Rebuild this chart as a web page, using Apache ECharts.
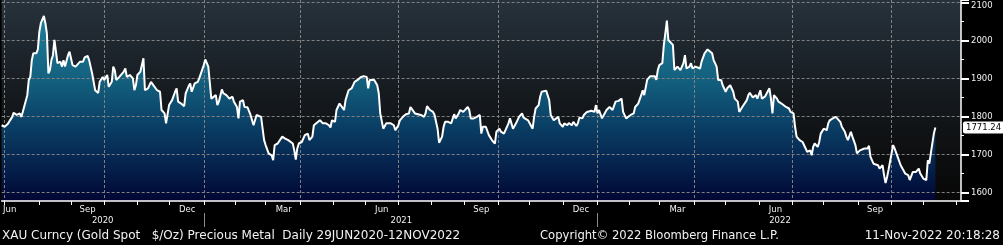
<!DOCTYPE html>
<html><head><meta charset="utf-8">
<script src="https://cdn.jsdelivr.net/npm/echarts@6/dist/echarts.min.js"></script>
<style>html,body{margin:0;padding:0;background:#000;}#c{width:1003px;height:245px;}</style>
</head><body><div id="c"></div>
<script>
// ---- data ----
const startDate = '2020-06-29';      // first trading day shown
const categoryCount = 637;           // weekday slots on the axis (data ends at slot 619)
const sampleDays = [
0,2,4,7,8,10,12,13,14,15,17,18,19,20,21,22,23,24,25,26,28,29,30,31,32,33,34,35,36,37,39,40,41,42,43,44,45,46,47,49,50,52,53,54,55,57,58,60,62,64,65,67,68,70,71,73,74,75,76,78,79,81,82,83,85,87,88,89,90,92,94,95,97,99,100,103,105,106,108,109,110,111,113,115,116,117,119,121,122,124,125,126,128,130,131,132,134,135,137,139,140,142,143,144,146,147,149,151,153,154,156,157,158,160,161,163,165,
167,169,170,172,174,175,177,179,180,181,183,184,186,188,190,191,193,194,195,196,197,199,201,203,204,206,207,208,211,213,215,217,218,219,221,222,224,225,227,228,230,232,233,234,236,237,238,240,242,243,244,245,247,249,250,251,253,255,256,258,260,261,263,264,266,268,270,271,272,274,276,278,280,281,282,284,286,287,289,290,292,293,294,296,298,300,301,303,304,306,307,309,310,311,313,315,317,318,319,321,323,324,325,327,328,330,331,
333,334,336,337,339,340,341,343,345,346,347,349,350,352,353,354,356,357,358,361,362,363,364,366,367,369,370,372,373,375,376,378,379,381,382,383,385,386,388,389,391,393,394,395,396,398,399,401,403,404,405,407,409,410,411,412,414,415,417,419,420,422,424,425,426,428,430,431,433,434,435,436,438,439,440,441,442,443,445,446,447,448,449,450,452,453,454,456,457,458,460,461,463,464,466,468,469,471,472,474,475,477,478,480,481,483,485,486,488,489,491,492,494,495,496,
498,500,501,503,504,506,507,509,510,511,512,514,515,517,518,520,522,523,525,526,527,528,529,531,533,534,536,537,538,539,541,542,543,545,547,548,549,551,553,554,556,557,559,560,561,563,564,566,567,569,570,572,574,575,576,578,579,581,582,584,585,586,587,588,589,591,592,594,596,597,599,601,602,603,604,606,608,609,611,613,614,615,616,617,618,619
];
const prices = [
1777,1773,1780,1799,1810,1804,1808,1799,1812,1817,1856,1896,1904,1948,1966,1970,1966,1976,2023,2045,2064,2045,2018,1913,1922,1948,1961,2001,2003,1940,1944,1931,1948,1931,1935,1961,1970,1966,1935,1931,1935,1944,1948,1944,1955,1959,1948,1913,1869,1862,1891,1904,1896,1909,1878,1891,1931,1922,1896,1904,1904,1918,1926,1904,1909,1900,1869,1882,1909,1918,1953,1869,1874,1891,1887,1869,1865,1817,1808,1782,1777,1830,1843,1865,1874,1839,1834,1827,1861,1880,1887,1865,1887,1891,1900,1897,1935,1950,1931,1847,1852,1856,1830,1839,1871,1861,1856,1847,1852,1839,1825,1795,1839,1843,1825,1824,1804,
1777,1804,1808,1799,1738,1725,1703,1698,1685,1725,1729,1733,1747,1742,1738,1733,1729,1711,1687,1716,1729,1733,1751,1755,1738,1747,1777,1773,1790,1782,1782,1777,1771,1790,1786,1817,1834,1839,1817,1843,1869,1874,1878,1891,1896,1900,1903,1906,1904,1874,1896,1891,1896,1882,1861,1808,1768,1782,1777,1782,1777,1764,1777,1790,1799,1806,1808,1825,1827,1808,1806,1804,1799,1808,1827,1817,1812,1804,1768,1731,1747,1773,1786,1786,1782,1806,1795,1808,1817,1812,1817,1825,1817,1795,1795,1799,1804,1755,1773,1773,1751,1751,1738,1729,1760,1768,1760,
1755,1754,1782,1795,1768,1773,1782,1799,1808,1797,1799,1790,1790,1768,1799,1821,1830,1852,1865,1868,1865,1843,1804,1790,1790,1799,1782,1773,1782,1777,1783,1777,1786,1775,1782,1797,1795,1804,1812,1808,1815,1812,1830,1808,1817,1795,1799,1817,1825,1821,1817,1839,1841,1843,1847,1812,1795,1799,1804,1808,1825,1834,1856,1869,1856,1897,1906,1904,1906,1896,1922,1935,1940,1988,2018,2052,2001,1996,1988,1922,1926,1931,1935,1922,1940,1961,1926,1931,1940,1926,1931,1926,1926,1944,1966,1976,1979,1966,1948,1931,1896,1896,1882,1865,1874,1882,1865,1847,1839,1812,1825,1821,1843,1856,1862,
1850,1856,1847,1869,1847,1852,1856,1874,1847,1808,1856,1847,1839,1834,1830,1825,1821,1812,1808,1773,1747,1742,1738,1733,1716,1707,1711,1698,1720,1729,1720,1733,1755,1768,1764,1782,1790,1795,1799,1804,1786,1773,1760,1747,1738,1760,1747,1725,1703,1711,1707,1716,1716,1723,1694,1676,1672,1672,1663,1672,1646,1625,1641,1661,1663,1725,1716,1694,1672,1668,1650,1646,1633,1628,1654,1654,1663,1650,1637,1633,1685,1676,1703,1707,1755,1771.24
];
const lastPrice = prices[prices.length - 1];
const monthNames = ['Jan','Feb','Mar','Apr','May','Jun','Jul','Aug','Sep','Oct','Nov','Dec'];
const labelledMonths = ['Mar','Jun','Sep','Dec'];
const yearLabels = ['2020','2021','2022'];
const footerLeft = 'XAU Curncy (Gold Spot   $/Oz) Precious Metal  Daily 29JUN2020-12NOV2022';
const footerMid = 'Copyright\u00A9 2022 Bloomberg Finance L.P.';
const footerRight = '11-Nov-2022 20:18:28';

// ---- weekday categories ----
const days = [];
{
  const d = new Date(startDate + 'T00:00:00Z');
  while (days.length < categoryCount) {
    const wd = d.getUTCDay();
    if (wd !== 0 && wd !== 6) days.push(d.toISOString().slice(0, 10));
    d.setUTCDate(d.getUTCDate() + 1);
  }
}
const monthStarts = [];
const yearStarts = [];
days.forEach((s, i) => {
  if (i === 0 || s.slice(0, 7) !== days[i - 1].slice(0, 7)) monthStarts.push({ idx: i, m: +s.slice(5, 7) - 1 });
  if (i === 0 || s.slice(0, 4) !== days[i - 1].slice(0, 4)) yearStarts.push({ idx: i, y: s.slice(0, 4) });
});
const monthTickSet = new Set(monthStarts.filter(g => g.idx > 0).map(g => g.idx));
const quarterSet = new Set(monthStarts.filter(g => g.idx > 0 && g.m % 3 === 0).map(g => g.idx));
const monthLabelAt = {};
monthStarts.forEach((g, k) => {
  const name = monthNames[g.m];
  if (!labelledMonths.includes(name)) return;
  if (g.idx === 0) { monthLabelAt[0] = '{first|' + name + '}'; return; }
  const next = monthStarts[k + 1];
  if (!next) return;
  monthLabelAt[Math.round((g.idx + next.idx) / 2)] = name;
});
const yearTickSet = new Set(yearStarts.filter(g => g.idx > 0).map(g => g.idx));
const yearLabelAt = {};
yearStarts.forEach((g, k) => {
  const end = k + 1 < yearStarts.length ? yearStarts[k + 1].idx : days.length - 1;
  if (yearLabels.includes(g.y)) yearLabelAt[Math.round((g.idx + end) / 2)] = g.y;
});

const seriesData = sampleDays.map((d, i) => [d, prices[i]]);
const G = echarts.graphic.LinearGradient;
const labelFont = 'DejaVu Sans';
const gridLine = { color: '#808080', type: [3, 2], width: 1 };

const chart = echarts.init(document.getElementById('c'), null, { renderer: 'canvas' });
chart.setOption({
  animation: false,
  backgroundColor: '#000',
  grid: {
    show: true, left: 0, right: 42, top: 0, bottom: 44, borderWidth: 0,
    backgroundColor: new G(0, 0, 0, 1, [
      { offset: 0, color: '#27323c' },
      { offset: 0.45, color: '#161b20' },
      { offset: 0.8, color: '#0c0d0e' },
      { offset: 1, color: '#070707' }
    ])
  },
  xAxis: [{
    type: 'category', data: days, boundaryGap: false, z: 3,
    axisLine: { lineStyle: { color: '#fff', width: 1.5 } },
    axisTick: { interval: i => monthTickSet.has(i), length: 4, lineStyle: { color: '#fff', width: 1 } },
    axisLabel: {
      interval: i => monthLabelAt[i] !== undefined,
      formatter: (v, i) => monthLabelAt[i] || '',
      margin: 4, color: '#f0f0f0', fontSize: 8.5, fontFamily: labelFont,
      rich: { first: { padding: [0, 0, 0, 16], color: '#f0f0f0', fontSize: 8.5, fontFamily: labelFont } }
    },
    splitLine: { show: true, interval: i => quarterSet.has(i), lineStyle: gridLine }
  }, {
    type: 'category', data: days, boundaryGap: false, position: 'bottom', offset: 12,
    axisLine: { show: false },
    axisTick: { show: true, interval: i => yearTickSet.has(i), length: 14, lineStyle: { color: '#8a8a8a', width: 1 } },
    axisLabel: {
      interval: i => yearLabelAt[i] !== undefined,
      formatter: (v, i) => yearLabelAt[i] || '',
      margin: 3, color: '#f0f0f0', fontSize: 8.5, fontFamily: labelFont
    },
    splitLine: { show: false }
  }],
  yAxis: {
    type: 'value', position: 'right', min: 1578, max: 2106, splitNumber: 5,
    minInterval: 100, maxInterval: 100, z: 3,
    axisLine: { show: true, lineStyle: { color: '#fff', width: 1.5 } },
    axisTick: { show: true, length: 8, lineStyle: { color: '#fff', width: 2 } },
    minorTick: { show: true, splitNumber: 2, length: 3, lineStyle: { color: '#fff', width: 1 } },
    axisLabel: {
      showMinLabel: false, showMaxLabel: false, margin: 10,
      color: '#f0f0f0', fontSize: 8.5, fontFamily: labelFont,
      formatter: v => (v === 2100 ? '{top|2100}' : String(v)),
      rich: { top: { padding: [7, 0, 0, 0], color: '#f0f0f0', fontSize: 8.5, fontFamily: labelFont } }
    },
    splitLine: { show: true, showMinLine: false, showMaxLine: false, lineStyle: gridLine }
  },
  series: [{
    type: 'line', data: seriesData, symbol: 'none', silent: true, z: 1,
    lineStyle: { opacity: 0 },
    areaStyle: {
      origin: 'start', opacity: 1,
      color: new G(0, 0, 0, 1, [
        { offset: 0, color: '#1f7f9a' },
        { offset: 0.35, color: '#135f7e' },
        { offset: 0.6, color: '#0a3e64' },
        { offset: 0.85, color: '#041c48' },
        { offset: 1, color: '#010633' }
      ])
    }
  }, {
    type: 'line', data: seriesData, symbol: 'none', silent: true, z: 5,
    lineStyle: { color: '#ffffff', width: 2 },
    markLine: {
      symbol: 'none', silent: true, animation: false,
      data: [{ yAxis: lastPrice }],
      lineStyle: { color: 'rgba(0,0,0,0)', width: 1, type: 'solid' },
      label: {
        show: true, position: 'end', distance: 2, formatter: String(lastPrice.toFixed(2)),
        backgroundColor: '#ffffff', color: '#000000', opacity: 1, padding: [2, 3, 1, 3], borderRadius: 2,
        fontSize: 8.5, fontFamily: labelFont
      }
    }
  }],
  graphic: [
    { type: 'text', left: 2, top: 230, style: { text: footerLeft, fill: '#f2f2f2', font: '12px "DejaVu Sans"' } },
    { type: 'text', left: 540, top: 230, style: { text: footerMid, fill: '#f2f2f2', font: '11.6px "DejaVu Sans"' } },
    { type: 'text', right: 3, top: 230, style: { text: footerRight, fill: '#f2f2f2', font: '12px "DejaVu Sans"' } }
  ]
});
</script>
</body></html>
